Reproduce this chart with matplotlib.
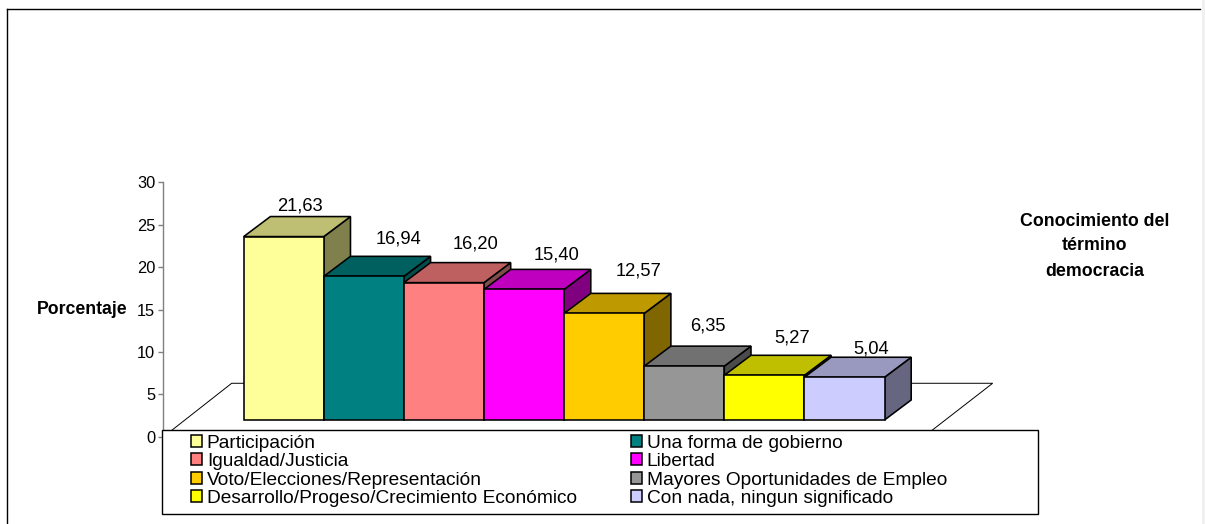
import matplotlib
matplotlib.use("Agg")
import matplotlib.pyplot as plt
from matplotlib.lines import Line2D
from matplotlib.patches import Patch, Polygon, Rectangle

plt.rcParams['font.family'] = ['Liberation Sans', 'DejaVu Sans']

categories = ["Participación", "Una forma de gobierno", "Igualdad/Justicia", "Libertad",
              "Voto/Elecciones/Representación", "Mayores Oportunidades de Empleo",
              "Desarrollo/Progeso/Crecimiento Económico", "Con nada, ningun significado"]
values = [21.63, 16.94, 16.20, 15.40, 12.57, 6.35, 5.27, 5.04]
value_labels = ["21,63", "16,94", "16,20", "15,40", "12,57", "6,35", "5,27", "5,04"]
y_ticks = [0, 5, 10, 15, 20, 25, 30]

front_colors = ["#FFFF99", "#008080", "#FF8080", "#FF00FF", "#FFCC00", "#969696", "#FFFF00", "#CCCCFF"]
top_colors = ["#BFBF73", "#006060", "#BF6060", "#BF00BF", "#BF9900", "#717171", "#BFBF00", "#9999BF"]
side_colors = ["#80804D", "#004D4D", "#804D4D", "#800080", "#806600", "#4B4B4B", "#808000", "#666680"]

# Label offsets from the bar centre in category units and value units.
label_dx = [0.20, 0.43, 0.39, 0.41, 0.43, 0.29, 0.35, 0.33]
label_dy = [3.6, 4.4, 4.6, 4.1, 5.0, 4.7, 4.4, 3.3]

W, H = 1205, 524
BASE = 1.97    # bar floor above the axis zero
DX = 0.333     # 3D depth, in categories
DY = 2.36      # 3D depth, in value units

fig = plt.figure(figsize=(W / 100, H / 100), dpi=100, facecolor="white")

# Axes box in pixels: x 163..1038, y 182.3..436.7
ax = fig.add_axes([163 / W, 1 - 436.7 / H, 875 / W, 254.4 / H])
ax.set_xlim(-1.0075, 9.916)
ax.set_ylim(0, 30)
ax.patch.set_visible(False)
for side in ["top", "right", "bottom"]:
    ax.spines[side].set_visible(False)
ax.spines["left"].set_color("#808080")
ax.spines["left"].set_linewidth(1.0)
ax.set_xticks([])
ax.set_yticks(y_ticks)
ax.tick_params(axis="y", length=3.5, width=1.0, color="#808080", labelsize=11.8, pad=2, labelcolor="black")

# Floor of the 3D plot, the legend hides its front edge.
floor = [(-1.0, 0), (-0.15, 6.3), (9.35, 6.3), (8.49, 0)]
ax.add_patch(Polygon(floor, closed=False, facecolor="white", edgecolor="black", linewidth=0.7, zorder=1))


def drawBar(i, value):
	# Bars are drawn left to right so the next one covers the side of this one.
	top = BASE + value
	z = 2 + i
	front = [(i, BASE), (i + 1, BASE), (i + 1, top), (i, top)]
	roof = [(i, top), (i + 1, top), (i + 1 + DX, top + DY), (i + DX, top + DY)]
	side = [(i + 1, BASE), (i + 1 + DX, BASE + DY), (i + 1 + DX, top + DY), (i + 1, top)]
	for pts, color in [(side, side_colors[i]), (roof, top_colors[i]), (front, front_colors[i])]:
		ax.add_patch(Polygon(pts, closed=True, facecolor=color, edgecolor="black",
		                     linewidth=1.15, joinstyle="miter", zorder=z, clip_on=False))
	ax.text(i + 0.5 + label_dx[i], top + label_dy[i], value_labels[i], ha="center", va="center",
	        fontsize=13.2, color="black", zorder=20)


for i in range(len(values)):
	drawBar(i, values[i])

# Legend frame, then the entries, filled column by column.
fig.add_artist(Rectangle((162 / W, 1 - 514 / H), 876 / W, 84.5 / H, transform=fig.transFigure,
                         facecolor="white", edgecolor="black", linewidth=1.0, zorder=30))
order = [0, 2, 4, 6, 1, 3, 5, 7]
handles = [Patch(facecolor=front_colors[j], edgecolor="black", linewidth=1.1) for j in order]
labels = [categories[j] for j in order]
leg = fig.legend(handles, labels, ncols=2, loc="upper left", bbox_to_anchor=(190.5 / W, 1 - 434.5 / H),
                 frameon=False, fontsize=13.8, handlelength=0.58, handleheight=0.58, handletextpad=0.27,
                 labelspacing=0.08, columnspacing=2.8, borderpad=0, borderaxespad=0)
leg.set_zorder(31)

fig.text(82.5 / W, 1 - 309 / H, "Porcentaje", fontsize=12.7, fontweight="bold", ha="center", va="center")
fig.text(1094.5 / W, 1 - 221 / H, "Conocimiento del", fontsize=12.8, fontweight="bold", ha="center", va="center")
fig.text(1094.5 / W, 1 - 246 / H, "término", fontsize=12.8, fontweight="bold", ha="center", va="center")
fig.text(1094.5 / W, 1 - 271 / H, "democracia", fontsize=12.8, fontweight="bold", ha="center", va="center")

# Outer border: only the left and top edges show, plus a pale strip on the right.
fig.add_artist(Line2D([7.5 / W, 7.5 / W], [0, 1 - 8.5 / H], color="black", linewidth=1.0))
fig.add_artist(Line2D([7.5 / W, 1200 / W], [1 - 8.5 / H, 1 - 8.5 / H], color="black", linewidth=1.0))
fig.add_artist(Rectangle((1202 / W, 0), 3 / W, 1, transform=fig.transFigure, facecolor="#F0F0F0", edgecolor="none"))

fig.savefig("out.png", dpi=100)
